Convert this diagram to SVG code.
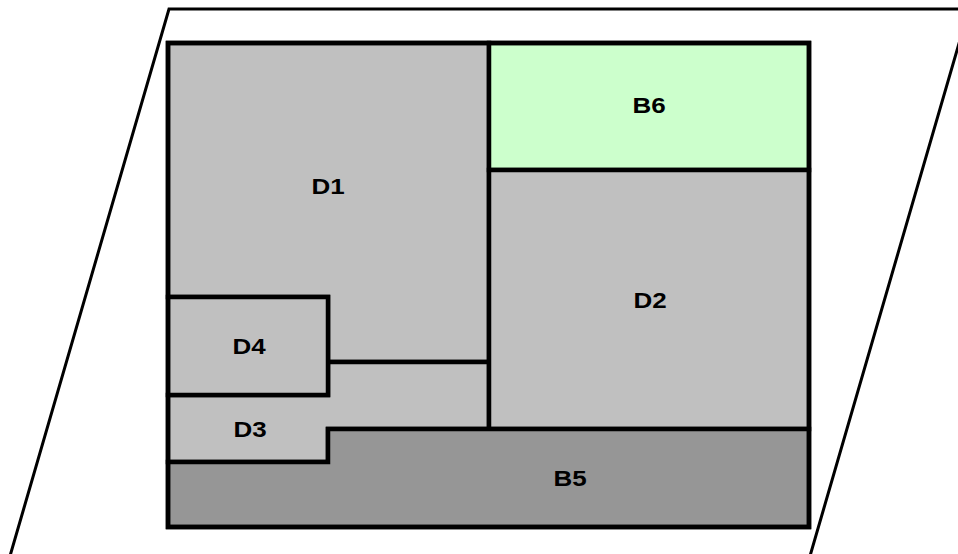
<svg xmlns="http://www.w3.org/2000/svg" width="958" height="554" viewBox="0 0 958 554">
<style>
.r{stroke:#000;stroke-width:4.5;stroke-linejoin:miter}
.g{fill:#c0c0c0}
.d{fill:#969696}
.b6{fill:#ccffcc}
.t{font-family:"Liberation Sans",Arial,sans-serif;font-weight:bold;font-size:22px;fill:#000;text-anchor:middle}
</style>
<rect width="958" height="554" fill="#fff"/>
<polyline points="10,556 169,9 969,9 810,556" fill="none" stroke="#000" stroke-width="3"/>
<g id="D1"><polygon class="r g" points="168,43 489,43 489,362 328,362 328,297 168,297"/><text class="t" transform="translate(328,194) scale(1.18,1)">D1</text></g>
<g id="D3"><polygon class="r g" points="168,395 328,395 328,362 489,362 489,429 328,429 328,462 168,462"/><text class="t" transform="translate(250,437) scale(1.18,1)">D3</text></g>
<g id="D4"><polygon class="r g" points="168,297 328,297 328,395 168,395"/><text class="t" transform="translate(249,354) scale(1.18,1)">D4</text></g>
<g id="B6"><polygon class="r b6" points="489,43 809,43 809,170 489,170"/><text class="t" transform="translate(649,113) scale(1.18,1)">B6</text></g>
<g id="D2"><polygon class="r g" points="489,170 809,170 809,429 489,429"/><text class="t" transform="translate(650,308) scale(1.18,1)">D2</text></g>
<g id="B5"><polygon class="r d" points="168,462 328,462 328,429 809,429 809,527 168,527"/><text class="t" transform="translate(570,486) scale(1.18,1)">B5</text></g>
<rect x="168" y="43" width="641" height="484" fill="none" stroke="#000" stroke-width="4.5"/>
</svg>
